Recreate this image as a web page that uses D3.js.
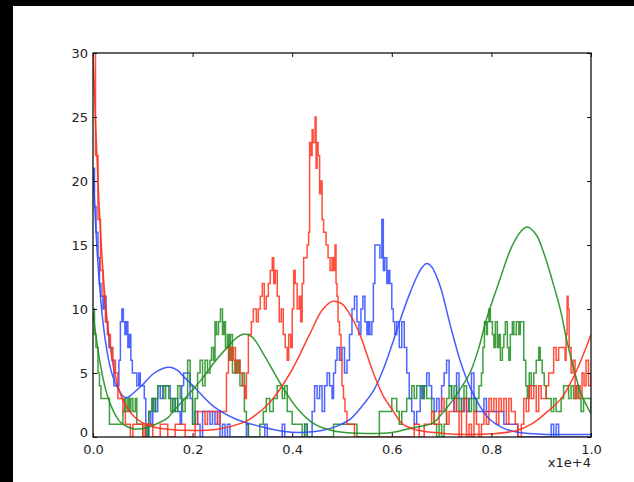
<!DOCTYPE html>
<html>
<head>
<meta charset="utf-8">
<script src="https://cdn.jsdelivr.net/npm/d3@7"></script>
<style>
  body { margin: 0; background: #000; }
  svg { display: block; }
</style>
</head>
<body>
<div class="chart"></div>
<script>
// tick labels
const xTicks = [0, 2000, 4000, 6000, 8000, 10000];
const yTicks = [0, 5, 10, 15, 20, 25, 30];
const xOffsetLabel = "x1e+4";

// noisy (raw) series, [x, count]
const redRaw = [[0,30],[50,22],[100,17],[150,13],[200,11],[250,9],[300,8],[350,7],[400,6],[450,5],[500,3],[550,3],[600,2],[650,1],[700,1],[750,0],[800,1],[900,1],[1000,0],[1050,1],[1150,1],[1200,0],[1350,1],[1450,1],[1500,0],[1650,1],[1800,1],[1850,0],[2050,1],[2100,2],[2200,2],[2250,1],[2300,2],[2450,2],[2500,1],[2550,2],[2650,2],[2680,5],[2720,7],[2780,6],[2820,7],[2860,5],[2900,6],[2950,5],[3000,4],[3050,3],[3080,5],[3120,8],[3180,9],[3220,10],[3280,9],[3320,10],[3360,11],[3400,12],[3440,10],[3480,11],[3520,12],[3560,13],[3600,14],[3630,12],[3660,13],[3700,11],[3740,9],[3780,10],[3820,8],[3860,7],[3900,6],[3930,8],[3970,7],[4000,10],[4030,13],[4060,12],[4100,10],[4140,11],[4170,9],[4200,12],[4230,14],[4270,14],[4300,15],[4330,16],[4350,23],[4380,22],[4400,24],[4420,23],[4460,25],[4480,21],[4500,23],[4520,22],[4550,19],[4580,20],[4600,17],[4630,16],[4680,15],[4720,14],[4760,13],[4800,14],[4830,13],[4860,15],[4880,12],[4900,11],[4920,9],[4950,8],[4980,6],[5000,4],[5030,3],[5060,2],[5100,1],[5200,1],[5250,0],[6450,1],[6550,0],[6650,1],[6800,2],[6850,1],[6950,2],[7000,3],[7050,2],[7100,1],[7150,2],[7250,3],[7300,2],[7350,0],[7400,2],[7450,3],[7500,0],[7550,1],[7600,0],[7650,2],[7700,1],[7750,0],[7800,1],[7850,2],[7900,1],[7950,3],[8000,2],[8050,3],[8100,1],[8150,3],[8200,2],[8250,3],[8300,1],[8350,3],[8400,2],[8480,1],[8530,0],[8600,1],[8650,3],[8700,2],[8750,4],[8800,3],[8850,4],[8900,2],[8950,4],[9000,3],[9100,4],[9150,5],[9250,7],[9300,6],[9350,7],[9480,6],[9500,8],[9520,11],[9540,10],[9560,7],[9600,5],[9640,6],[9680,3],[9720,4],[9780,3],[9820,5],[9860,4],[9900,6],[9950,4],[10000,5]];

const blueRaw = [[0,21],[30,18],[60,16],[100,14],[130,12],[160,11],[200,10],[230,11],[260,9],[290,8],[320,7],[380,6],[420,4],[520,6],[550,9],[580,10],[610,9],[640,8],[670,9],[700,7],[730,8],[760,6],[790,5],[880,4],[920,5],[950,4],[1030,3],[1060,1],[1080,0],[1120,2],[1160,1],[1200,3],[1250,2],[1300,4],[1350,3],[1400,4],[1550,3],[1600,2],[1650,3],[1700,2],[1750,1],[1780,4],[1820,5],[1950,3],[2000,1],[2050,2],[2100,1],[2150,0],[2200,2],[2350,1],[2400,2],[2450,1],[2500,2],[2550,0],[2600,1],[2650,0],[2700,1],[2750,0],[3080,1],[3120,0],[3450,1],[3500,0],[3800,1],[3850,0],[4250,1],[4300,0],[4400,2],[4450,4],[4500,3],[4550,4],[4600,2],[4650,4],[4700,5],[4750,4],[4800,3],[4830,5],[4870,6],[4900,7],[4950,6],[5000,7],[5050,5],[5100,6],[5150,8],[5200,10],[5250,11],[5300,9],[5340,8],[5380,10],[5420,11],[5460,9],[5500,8],[5530,9],[5560,8],[5600,9],[5630,12],[5660,15],[5760,14],[5800,17],[5830,13],[5860,14],[5900,12],[5930,13],[5960,12],[6000,10],[6030,9],[6060,8],[6100,9],[6150,7],[6200,9],[6250,7],[6300,5],[6350,3],[6400,2],[6450,1],[6500,2],[6570,4],[6620,3],[6650,4],[6700,5],[6750,4],[6800,3],[6850,2],[6900,3],[6950,2],[7000,4],[7050,5],[7100,6],[7150,4],[7200,3],[7250,2],[7300,5],[7350,3],[7400,2],[7450,3],[7500,2],[7550,3],[7600,5],[7650,3],[7700,2],[7850,3],[7900,2],[8250,1],[8530,0],[9200,1],[9250,0],[9300,1],[9350,0],[10000,0]];

const greenRaw = [[0,10],[30,8],[60,7],[100,5],[130,4],[160,3],[330,1],[600,2],[630,3],[660,2],[700,3],[730,2],[760,3],[800,2],[850,3],[880,1],[1000,0],[1050,1],[1100,0],[1120,2],[1180,3],[1220,2],[1260,3],[1300,4],[1420,3],[1460,4],[1520,3],[1560,2],[1600,3],[1650,2],[1700,4],[1750,3],[1800,2],[1850,3],[1900,6],[1950,4],[2000,1],[2050,3],[2100,5],[2150,6],[2200,4],[2250,6],[2300,5],[2350,6],[2380,7],[2420,6],[2450,9],[2480,8],[2520,9],[2560,10],[2600,8],[2630,9],[2660,7],[2700,8],[2730,6],[2760,8],[2800,5],[2850,6],[2880,5],[2920,6],[2950,4],[3000,5],[3040,2],[3080,1],[3120,0],[3350,1],[3420,2],[3480,3],[3550,2],[3620,3],[3700,4],[3800,3],[3850,4],[3900,2],[4000,1],[4200,0],[4250,1],[4300,0],[4830,1],[5300,0],[5750,2],[6000,3],[6100,2],[6150,1],[6200,2],[6300,3],[6400,4],[6450,3],[6500,4],[6600,3],[6650,4],[6700,3],[6800,2],[6850,1],[6900,0],[6950,1],[7000,0],[7050,1],[7100,3],[7150,4],[7200,3],[7250,4],[7300,3],[7350,2],[7400,3],[7450,4],[7500,3],[7550,2],[7600,3],[7650,2],[7700,3],[7750,4],[7800,5],[7830,7],[7860,9],[7900,8],[7920,9],[7950,10],[7980,9],[8020,8],[8050,7],[8080,9],[8120,7],[8150,8],[8180,6],[8220,7],[8250,8],[8280,9],[8320,7],[8350,6],[8380,8],[8420,9],[8450,8],[8500,9],[8550,8],[8580,9],[8650,6],[8690,4],[8720,3],[8760,5],[8800,4],[8850,5],[8900,6],[8950,7],[8980,6],[9020,5],[9060,4],[9100,3],[9200,2],[9250,3],[9300,2],[9400,3],[9450,4],[9550,3],[9600,4],[9650,3],[9700,4],[9750,3],[9800,2],[9850,3],[10000,2]];

// smooth (fitted) curves, [x, value]
const redFit = [[0,30],[100,20],[200,13],[300,8.5],[400,5.7],[500,4],[600,2.9],[800,1.7],[1000,1.1],[1200,0.8],[1500,0.6],[2000,0.5],[2500,0.6],[3000,1.1],[3150,1.4],[3550,2.7],[3960,5.0],[4360,8.1],[4600,9.9],[4820,10.6],[5000,10.4],[5200,9.3],[5360,8.0],[5630,5.0],[5830,3.2],[6000,2.2],[6220,1.0],[6500,0.55],[7000,0.3],[7500,0.2],[8000,0.25],[8500,0.5],[8800,1.0],[9100,1.9],[9400,3.0],[9600,4.3],[9800,6.0],[10000,8.0]];

const blueFit = [[0,21],[100,13.5],[200,9],[300,6.3],[400,4.7],[500,3.8],[600,3.2],[680,3.06],[800,3.4],[1000,4.1],[1200,4.9],[1400,5.35],[1550,5.45],[1700,5.2],[1850,4.6],[2010,4.0],[2420,2.4],[2890,1.37],[3350,0.84],[3800,0.45],[4200,0.35],[4600,0.5],[4900,0.85],[5160,1.37],[5400,2.4],[5630,3.6],[5830,5.3],[6030,7.5],[6200,9.5],[6370,11.3],[6500,12.5],[6600,13.2],[6700,13.55],[6800,13.3],[6970,11.8],[7170,8.8],[7370,6.0],[7570,3.9],[7770,2.4],[7970,1.37],[8300,0.6],[8570,0.35],[9000,0.22],[10000,0.2]];

const greenFit = [[0,9.7],[100,6.8],[200,4.6],[300,3.1],[400,2.1],[500,1.4],[600,1.0],[800,0.65],[1000,0.66],[1200,0.9],[1500,1.5],[1610,2.0],[1950,3.45],[2200,4.6],[2450,5.9],[2720,7.1],[2900,7.8],[3050,8.05],[3200,7.8],[3450,6.3],[3790,4.0],[4120,2.15],[4460,0.98],[4860,0.45],[5500,0.28],[6000,0.35],[6400,0.7],[6830,1.1],[7000,1.8],[7230,2.9],[7400,3.9],[7570,5.0],[7750,7.0],[7900,9.2],[8170,12.3],[8400,14.8],[8600,16.1],[8720,16.4],[8900,15.8],[9050,14.4],[9240,12.0],[9400,9.7],[9510,7.6],[9650,5.4],[9800,3.4],[10000,1.8]];

const series = [
  {raw: blueRaw, fit: blueFit, color: "#2f4bff"},
  {raw: greenRaw, fit: greenFit, color: "#1f8f1f"},
  {raw: redRaw, fit: redFit, color: "#ff2f1a"}
];

const W = 634, H = 482;
const margin = {top: 53, right: 43, bottom: 45, left: 93},
    width = W - margin.left - margin.right,
    height = H - margin.top - margin.bottom;

const root = d3.select(".chart")
  .append("svg")
    .attr("width", W)
    .attr("height", H);

// figure face (white) on the dark page
root.append("rect")
  .attr("x", 13).attr("y", 6)
  .attr("width", W - 13).attr("height", H - 6)
  .attr("fill", "#fff");

const svg = root.append("g")
  .attr("transform", `translate(${margin.left},${margin.top})`);

const x = d3.scaleLinear().domain([0, 10000]).range([0, width]);
const y = d3.scaleLinear().domain([0, 30]).range([height, 0]);

svg.append("clipPath").attr("id", "clip")
  .append("rect").attr("width", width).attr("height", height);

const plot = svg.append("g").attr("clip-path", "url(#clip)");

const rawLine = d3.line()
  .x(d => x(d[0])).y(d => y(d[1]))
  .curve(d3.curveStepAfter);
const fitLine = d3.line()
  .x(d => x(d[0])).y(d => y(d[1]))
  .curve(d3.curveCatmullRom.alpha(0.5));

series.forEach(s => {
  plot.append("path")
    .datum(s.raw)
    .attr("d", rawLine)
    .attr("fill", "none")
    .attr("stroke", s.color)
    .attr("stroke-width", 1.5)
    .attr("stroke-opacity", 0.85);
});
series.forEach(s => {
  plot.append("path")
    .datum(s.fit)
    .attr("d", fitLine)
    .attr("fill", "none")
    .attr("stroke", s.color)
    .attr("stroke-width", 1.5)
    .attr("stroke-opacity", 0.9);
});

// axes, matplotlib style: ticks inside on all four sides
const fmtX = d => (d / 1e4).toFixed(1);
const axBottom = svg.append("g")
  .attr("transform", `translate(0,${height})`)
  .call(d3.axisBottom(x).tickValues(xTicks).tickFormat(fmtX).tickSizeInner(-4).tickSizeOuter(0).tickPadding(6));
const axTop = svg.append("g")
  .call(d3.axisTop(x).tickValues(xTicks).tickFormat("").tickSizeInner(-4).tickSizeOuter(0));
const axLeft = svg.append("g")
  .call(d3.axisLeft(y).tickValues(yTicks).tickSizeInner(-4).tickSizeOuter(0).tickPadding(5));
const axRight = svg.append("g")
  .attr("transform", `translate(${width},0)`)
  .call(d3.axisRight(y).tickValues(yTicks).tickFormat("").tickSizeInner(-4).tickSizeOuter(0));

[axBottom, axTop, axLeft, axRight].forEach(g => {
  g.select(".domain").remove();
  g.selectAll("line").attr("stroke", "#111");
  g.selectAll("text")
    .attr("fill", "#222")
    .style("font-family", "'DejaVu Sans', sans-serif")
    .style("font-size", "13px");
});
// lift the y "0" a touch so it sits just above the "0.0" below it
axLeft.selectAll("text").filter(d => d === 0).attr("dy", "-0.05em");
axBottom.selectAll("text").attr("dy", "0.85em");

svg.append("rect")
  .attr("width", width).attr("height", height)
  .attr("fill", "none")
  .attr("stroke", "#111")
  .attr("stroke-width", 1.3);

svg.append("text")
  .attr("x", width)
  .attr("y", height + 30)
  .attr("text-anchor", "end")
  .attr("fill", "#222")
  .style("font-family", "'DejaVu Sans', sans-serif")
  .style("font-size", "13px")
  .text(xOffsetLabel);
</script>
</body>
</html>
